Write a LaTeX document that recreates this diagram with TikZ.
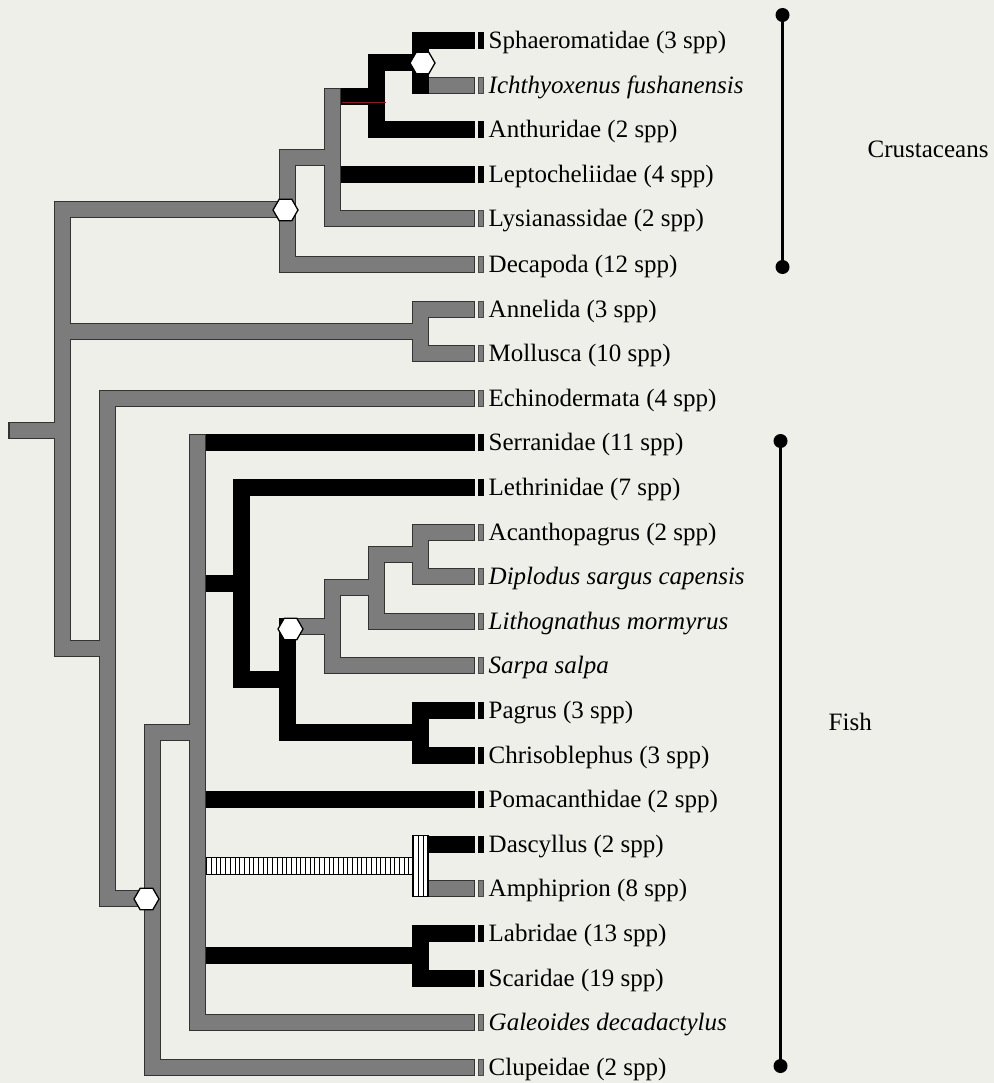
\documentclass[tikz,border=0pt]{standalone}
\usepackage{fontspec}
\setmainfont{Liberation Serif}
\usetikzlibrary{calc, shapes.geometric, patterns.meta}
\definecolor{paper}{HTML}{EEEFE9}
\definecolor{gmid}{HTML}{7C7C7C}
\definecolor{gedge}{HTML}{333333}
\definecolor{stray}{HTML}{8E1B2A}

\begin{document}
\begin{tikzpicture}[x=1pt, y=-1pt,
    blk/.style={draw=black, line width=17pt},
    hexa/.style={draw, fill=white, line width=1.3pt, regular polygon, regular polygon sides=6,
      minimum size=25pt, inner sep=0pt},
    hatch/.style={draw, line width=1pt, preaction={fill=white},
      pattern={Lines[angle=90, distance=4.7pt, line width=1pt]}},
    lab/.style={font=\fontsize{25}{30}\selectfont, inner sep=0pt, anchor=base west},
    group/.style={font=\fontsize{25}{30}\selectfont, inner sep=0pt, anchor=west},
    dot/.style={circle, fill=black, minimum size=14pt, inner sep=0pt}]

  \fill[paper] (0,0) rectangle (993,1083);

  % branching points
  \coordinate (stub)   at (8,430);
  \coordinate (root)   at (62,430);
  \coordinate (crus)   at (287,210);
  \coordinate (crusA)  at (332,158);
  \coordinate (isoA)   at (376,97);
  \coordinate (sphI)   at (420,63);
  \coordinate (annmol) at (420,331);
  \coordinate (lower)  at (107,648);
  \coordinate (fishclu) at (152,898);
  \coordinate (fish)   at (197,732);
  \coordinate (spl)    at (241,583);
  \coordinate (spar)   at (287,679);
  \coordinate (nThree) at (332,626);
  \coordinate (nTwo)   at (376,587);
  \coordinate (nOne)   at (420,554);
  \coordinate (pagchr) at (420,732);
  \coordinate (pomac)  at (420,866);
  \coordinate (labsca) at (420,955);

  % tips, end blocks and names
  \foreach \n/\y/\c/\t in {
      sph/41/black/{Sphaeromatidae (3 spp)},
      ich/86/gmid/{\textit{Ichthyoxenus fushanensis}},
      ant/130/black/{Anthuridae (2 spp)},
      lep/175/black/{Leptocheliidae (4 spp)},
      lys/219/gmid/{Lysianassidae (2 spp)},
      dec/264/gmid/{Decapoda (12 spp)},
      ann/309/gmid/{Annelida (3 spp)},
      mol/353/gmid/{Mollusca (10 spp)},
      ech/398/gmid/{Echinodermata (4 spp)},
      ser/442/black/{Serranidae (11 spp)},
      let/487/black/{Lethrinidae (7 spp)},
      aca/532/gmid/{Acanthopagrus (2 spp)},
      dip/576/gmid/{\textit{Diplodus sargus capensis}},
      lit/621/gmid/{\textit{Lithognathus mormyrus}},
      sar/665/gmid/{\textit{Sarpa salpa}},
      pag/710/black/{Pagrus (3 spp)},
      chr/755/black/{Chrisoblephus (3 spp)},
      pom/799/black/{Pomacanthidae (2 spp)},
      das/844/black/{Dascyllus (2 spp)},
      amp/888/gmid/{Amphiprion (8 spp)},
      lab/933/black/{Labridae (13 spp)},
      sca/978/black/{Scaridae (19 spp)},
      gal/1022/gmid/{\textit{Galeoides decadactylus}},
      clu/1067/gmid/{Clupeidae (2 spp)}}{
    \coordinate (\n) at (474,\y);
    \draw[fill=\c, draw=\c!60!black, line width=1pt] ($(\n)+(3.5,-8)$) rectangle ($(\n)+(8.5,8)$);
    \node[lab] (\n-lab) at ($(\n)+(14,8)$) {\t};
  }

  % black branches
  \foreach \p/\q in {crusA/isoA, crusA/lep, isoA/sphI, isoA/ant, sphI/sph,
      fish/ser, fish/spl, fish/pom, fish/labsca, spl/let, spl/spar,
      spar/pagchr, pagchr/pag, pagchr/chr, pomac/das, labsca/lab, labsca/sca}
    \draw[blk] (\p |- \q) -- (\q);

  % grey branches, edge first then fill
  \foreach \w/\c/\s in {17/gedge/0, 15/gmid/1}{
    \foreach \p/\q in {stub/root, root/crus, root/annmol, root/lower, crus/crusA, crus/dec,
        crusA/lys, sphI/ich, annmol/ann, annmol/mol, lower/ech, lower/fishclu,
        fishclu/fish, fishclu/clu, fish/gal, spar/nThree, nThree/nTwo, nThree/sar,
        nTwo/nOne, nTwo/lit, nOne/aca, nOne/dip, pomac/amp}
      \draw[line width=\w pt, draw=\c, shorten <=\s pt, shorten >=\s pt] (\p |- \q) -- (\q);
    \foreach \n/\a/\b in {root/crus/lower, crus/crusA/dec, crusA/isoA/lys, annmol/ann/mol,
        lower/ech/fishclu, fishclu/fish/clu, fish/ser/gal, nThree/nTwo/sar,
        nTwo/nOne/lit, nOne/aca/dip}
      \draw[line width=\w pt, draw=\c, line cap=rect] (\n |- \a) -- (\n |- \b);
  }

  \foreach \n/\a/\b in {isoA/sphI/ant, sphI/sph/ich, spl/let/spar, spar/nThree/pagchr,
      pagchr/pag/chr, labsca/lab/sca}
    \draw[blk, line cap=rect] (\n |- \a) -- (\n |- \b);

  \draw[stray, line width=1pt] ($(crusA |- isoA)+(9,6)$) -- ($(isoA)+(9,6)$);

  % hatched pomacentrid branch
  \draw[hatch] ($(fish |- pomac)+(8.5,-8.5)$) rectangle ($(pomac)+(-8,8.5)$);
  \draw[hatch] ($(pomac |- das)+(-8,-8.5)$) rectangle ($(pomac |- amp)+(8,8.5)$);

  \node[hexa] (hexIso)  at ($(sphI)+(2,0)$) {};
  \node[hexa] (hexCrus) at ($(crus)+(-2,0)$) {};
  \node[hexa] (hexSpar) at ($(spar |- nThree)+(3,3)$) {};
  \node[hexa] (hexFish) at ($(fishclu)+(-6,1)$) {};

  % groups
  \node[dot] (crTop) at (782,15) {};
  \node[dot] (crBot) at (782,267) {};
  \draw[line width=3.5pt] (crTop.center) -- (crBot.center);
  \node[group] (crName) at (867,149) {Crustaceans};

  \node[dot] (fiTop) at (780,441) {};
  \node[dot] (fiBot) at (780,1066) {};
  \draw[line width=3.5pt] (fiTop.center) -- (fiBot.center);
  \node[group] (fiName) at (828,722) {Fish};
\end{tikzpicture}
\end{document}
